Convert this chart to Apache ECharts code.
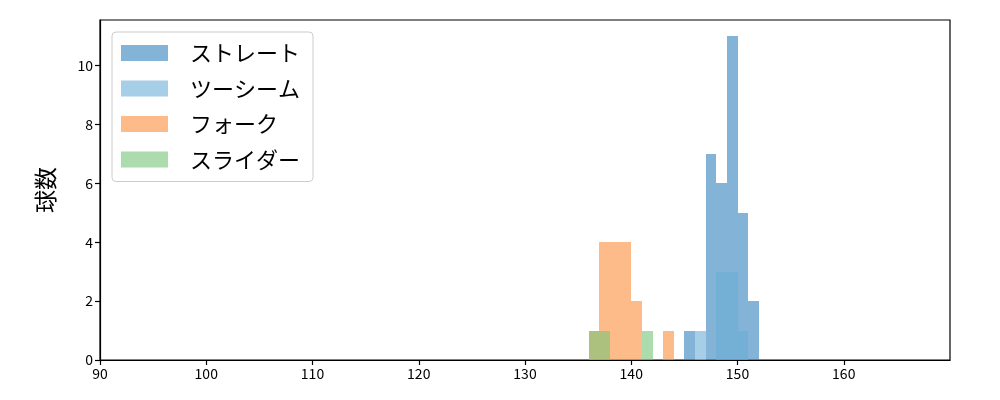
<!DOCTYPE html>
<html><head><meta charset="utf-8">
<script src="https://cdn.jsdelivr.net/npm/echarts@6/dist/echarts.min.js"></script>
<style>html,body{margin:0;padding:0;background:#fff}#c{width:1000px;height:400px}</style>
</head><body><div id="c"></div>
<script>
const seriesNames = ['ストレート', 'ツーシーム', 'フォーク', 'スライダー'];
const straightBins = [145, 147, 148, 149, 150, 151];
const straightCounts = [1, 7, 6, 11, 5, 2];
const twoSeamBins = [146, 148, 149, 150];
const twoSeamCounts = [1, 3, 3, 1];
const forkBins = [136, 137, 138, 139, 140, 143];
const forkCounts = [1, 4, 4, 4, 2, 1];
const sliderBins = [136, 137, 141];
const sliderCounts = [1, 1, 1];
const binWidth = 1;
const xTicks = [90, 100, 110, 120, 130, 140, 150, 160];
const yTicks = [0, 2, 4, 6, 8, 10];
const colors = ['rgba(49,130,189,0.6)', 'rgba(107,174,214,0.6)', 'rgba(253,141,60,0.6)', 'rgba(116,196,118,0.6)'];

const font = '"Noto Sans CJK JP", "DejaVu Sans", sans-serif';
const groups = [[straightBins, straightCounts], [twoSeamBins, twoSeamCounts], [forkBins, forkCounts], [sliderBins, sliderCounts]];

function renderItem(params, api) {
  const x0 = api.value(0), h = api.value(1);
  const p1 = api.coord([x0, h]);
  const p2 = api.coord([x0 + binWidth, 0]);
  const l = Math.round(p1[0]), r = Math.round(p2[0]);
  const t = Math.round(p1[1]), b = Math.round(p2[1]);
  return {
    type: 'rect',
    shape: { x: l, y: t, width: r - l, height: b - t },
    style: { fill: colors[params.seriesIndex] }
  };
}

const series = groups.map((g, i) => ({
  name: seriesNames[i],
  type: 'custom',
  renderItem: renderItem,
  itemStyle: { color: colors[i] },
  encode: { x: 0, y: 1 },
  data: g[0].map((b, j) => [b, g[1][j]]),
  z: 2 + i
}));

const chart = echarts.init(document.getElementById('c'));
chart.setOption({
  animation: false,
  textStyle: { fontFamily: font },
  grid: { left: 100, right: 50, top: 20, bottom: 40, show: true, borderColor: '#000', borderWidth: 1.2, backgroundColor: 'transparent' },
  xAxis: {
    type: 'value', min: 90, max: 170, interval: 10,
    axisLine: { show: true, onZero: false, lineStyle: { color: '#000', width: 1.2 } },
    axisTick: { show: true, length: 5, customValues: xTicks, lineStyle: { color: '#000', width: 1.2 } },
    splitLine: { show: false },
    axisLabel: { color: '#000', fontSize: 14, fontFamily: font, margin: 7, customValues: xTicks }
  },
  yAxis: {
    type: 'value', min: 0, max: 11.55, interval: 2,
    name: '球数', nameLocation: 'middle', nameGap: 43, nameRotate: 90,
    nameTextStyle: { fontSize: 23, color: '#000', fontFamily: font },
    axisLine: { show: true, lineStyle: { color: '#000', width: 1.2 } },
    axisTick: { show: true, length: 5, customValues: yTicks, lineStyle: { color: '#000', width: 1.2 } },
    splitLine: { show: false },
    axisLabel: { color: '#000', fontSize: 14, fontFamily: font, margin: 7, customValues: yTicks }
  },
  legend: {
    orient: 'vertical', left: 112, top: 32,
    data: seriesNames,
    icon: 'rect', itemWidth: 47, itemHeight: 16, itemGap: 13.5,
    padding: [10, 13, 11, 9],
    borderColor: '#cccccc', borderWidth: 1, borderRadius: 4,
    backgroundColor: 'rgba(255,255,255,0.8)',
    textStyle: { fontSize: 22, color: '#000', fontFamily: font, lineHeight: 21, padding: [0, 0, 0, 17] }
  },
  series: series
});
</script>
</body></html>
